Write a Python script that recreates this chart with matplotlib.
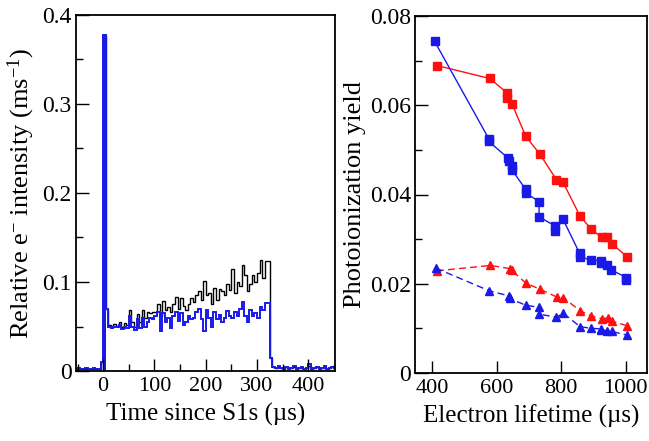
import numpy as np
import matplotlib
matplotlib.use("Agg")
import matplotlib.pyplot as plt
from matplotlib.ticker import MultipleLocator, FuncFormatter

plt.rcParams['font.family'] = ['Liberation Serif', 'DejaVu Serif']
plt.rcParams['mathtext.fontset'] = 'custom'
plt.rcParams['mathtext.rm'] = 'Liberation Serif'
plt.rcParams['mathtext.it'] = 'Liberation Serif:italic'

# ---------------- Left panel data (5 us bins) ----------------
bin_start = -55
bin_width = 5
pre_blue = [0.002, 0.003, 0.002, 0.002, 0.003, 0.002, 0.002, 0.003, 0.002, 0.002, 0.010]
pre_black = [0.002, 0.002, 0.002, 0.002, 0.002, 0.002, 0.002, 0.002, 0.002, 0.002, 0.010]
spike = [0.378, 0.070]
body_black = [0.052, 0.050, 0.053, 0.051, 0.055, 0.050, 0.054, 0.052, 0.068, 0.055,
              0.050, 0.064, 0.055, 0.069, 0.060, 0.066, 0.065, 0.066, 0.066, 0.075,
              0.062, 0.079, 0.068, 0.072, 0.066, 0.075, 0.083, 0.070, 0.082, 0.073,
              0.068, 0.075, 0.082, 0.078, 0.085, 0.090, 0.080, 0.101, 0.085, 0.088,
              0.075, 0.093, 0.080, 0.092, 0.090, 0.085, 0.098, 0.091, 0.115, 0.088,
              0.100, 0.095, 0.119, 0.108, 0.090, 0.098, 0.108, 0.100, 0.110, 0.125,
              0.105, 0.124, 0.124]
body_blue = [0.050, 0.048, 0.050, 0.049, 0.052, 0.047, 0.050, 0.048, 0.062, 0.050,
             0.046, 0.058, 0.048, 0.060, 0.050, 0.055, 0.060, 0.058, 0.062, 0.066,
             0.045, 0.065, 0.055, 0.060, 0.048, 0.062, 0.066, 0.056, 0.065, 0.052,
             0.055, 0.062, 0.058, 0.060, 0.066, 0.070, 0.058, 0.045, 0.068, 0.060,
             0.050, 0.066, 0.058, 0.063, 0.055, 0.060, 0.067, 0.062, 0.060, 0.066,
             0.062, 0.070, 0.078, 0.062, 0.055, 0.068, 0.062, 0.065, 0.060, 0.072,
             0.068, 0.076, 0.076]
tail_black = [0.015, 0.004, 0.003, 0.005, 0.003, 0.002, 0.004, 0.003, 0.003, 0.005,
              0.002, 0.003, 0.004, 0.002, 0.003, 0.006, 0.002, 0.003, 0.004, 0.002,
              0.003, 0.005, 0.002, 0.003, 0.004, 0.003]
tail_blue = [0.015, 0.005, 0.003, 0.006, 0.003, 0.002, 0.005, 0.002, 0.003, 0.006,
             0.002, 0.003, 0.004, 0.002, 0.003, 0.008, 0.002, 0.003, 0.005, 0.002,
             0.003, 0.006, 0.002, 0.003, 0.005, 0.003]

black_vals = pre_black + spike + body_black + tail_black
blue_vals = pre_blue + spike + body_blue + tail_blue

# ---------------- Right panel data ----------------
red_sq_x = [414, 578, 633, 631, 647, 690, 733, 785, 805, 858, 892, 925, 943, 957, 1003]
red_sq_y = [0.0689, 0.0660, 0.0627, 0.0617, 0.0603, 0.0530, 0.0491, 0.0433, 0.0428,
            0.0352, 0.0323, 0.0304, 0.0305, 0.0290, 0.0261]
blue_sq_x = [407, 575, 575, 634, 637, 646, 646, 689, 689, 731, 731, 782, 782, 805,
             857, 857, 891, 923, 923, 942, 955, 1002, 1002]
blue_sq_y = [0.0743, 0.0525, 0.0519, 0.0482, 0.0476, 0.0463, 0.0456, 0.0412, 0.0404,
             0.0384, 0.0350, 0.0329, 0.0319, 0.0345, 0.0268, 0.0261, 0.0253, 0.0252,
             0.0246, 0.0242, 0.0231, 0.0214, 0.0208]
red_tri_x = [414, 580, 641, 646, 691, 733, 787, 806, 859, 892, 925, 945, 958, 1004]
red_tri_y = [0.0229, 0.0241, 0.0234, 0.0230, 0.0201, 0.0188, 0.0170, 0.0169, 0.0139,
             0.0128, 0.0122, 0.0123, 0.0116, 0.0106]
blue_tri_x = [411, 577, 637, 640, 689, 731, 731, 784, 806, 858, 892, 923, 923, 943, 957, 1003]
blue_tri_y = [0.0235, 0.0184, 0.0173, 0.0167, 0.0152, 0.0147, 0.0132, 0.0125, 0.0134,
              0.0104, 0.0100, 0.0099, 0.0096, 0.0095, 0.0093, 0.0085]

RED = '#ff1010'
BLUE = '#1a1ae6'

fig = plt.figure(figsize=(6.49, 4.41), dpi=100)
ax1 = fig.add_axes([76/649, 1-371/441, (335-76)/649, (371-15)/441])
ax2 = fig.add_axes([415/649, 1-373/441, (647-415)/649, (373-16)/441])

edges = bin_start + bin_width * np.arange(len(black_vals) + 1)
ax1.stairs(black_vals, edges, color='black', lw=1.0)
ax1.stairs(blue_vals, edges, color=BLUE, lw=1.4)
# the spike bin is drawn as a filled column (it appears as one solid line)
i_spike = len(pre_blue)
ax1.stairs(blue_vals[i_spike:i_spike + 1], edges[i_spike:i_spike + 2],
           color=BLUE, fill=True, lw=0)
ax1.set_xlim(-53, 452)
ax1.set_ylim(0, 0.4)
ax1.xaxis.set_major_locator(MultipleLocator(100))
ax1.xaxis.set_minor_locator(MultipleLocator(50))
ax1.yaxis.set_major_locator(MultipleLocator(0.1))
ax1.yaxis.set_minor_locator(MultipleLocator(0.05))
ax1.yaxis.set_major_formatter(FuncFormatter(lambda v, p: '0' if abs(v) < 1e-9 else f'{v:.1f}'))
ax1.set_xlabel('Time since S1s (\u00b5s)', fontsize=18, labelpad=5)
ax1.set_ylabel(r'Relative e$^{\mathregular{-}}$ intensity (ms$^{\mathregular{-1}}$)', fontsize=19, labelpad=4)

ax2.plot(red_sq_x, red_sq_y, '-s', color=RED, ms=6, lw=1.0)
ax2.plot(blue_sq_x, blue_sq_y, '-s', color=BLUE, ms=6, lw=1.0)
ax2.plot(red_tri_x, red_tri_y, '--^', color=RED, ms=6, lw=1.0, dashes=(5, 3))
ax2.plot(blue_tri_x, blue_tri_y, '--^', color=BLUE, ms=6, lw=1.0, dashes=(5, 3))
ax2.set_xlim(346, 1066)
ax2.set_ylim(0, 0.08)
ax2.xaxis.set_major_locator(MultipleLocator(200))
ax2.yaxis.set_major_locator(MultipleLocator(0.02))
ax2.yaxis.set_minor_locator(MultipleLocator(0.01))
ax2.yaxis.set_major_formatter(FuncFormatter(lambda v, p: '0' if abs(v) < 1e-9 else f'{v:.2f}'))
ax2.set_xlabel('Electron lifetime (\u00b5s)', fontsize=18, labelpad=5)
ax2.set_ylabel('Photoionization yield', fontsize=19, labelpad=3)

for ax in (ax1, ax2):
    for s in ax.spines.values():
        s.set_linewidth(1.3)
    ax.tick_params(which='both', direction='in', top=False, right=False, pad=3)
    ax.tick_params(axis='x', labelsize=16, pad=4)
    ax.tick_params(axis='y', labelsize=17)
    ax.tick_params(which='major', length=9, width=1.0)
    ax.tick_params(which='minor', length=5, width=1.0)

fig.savefig('out.png', dpi=100)
